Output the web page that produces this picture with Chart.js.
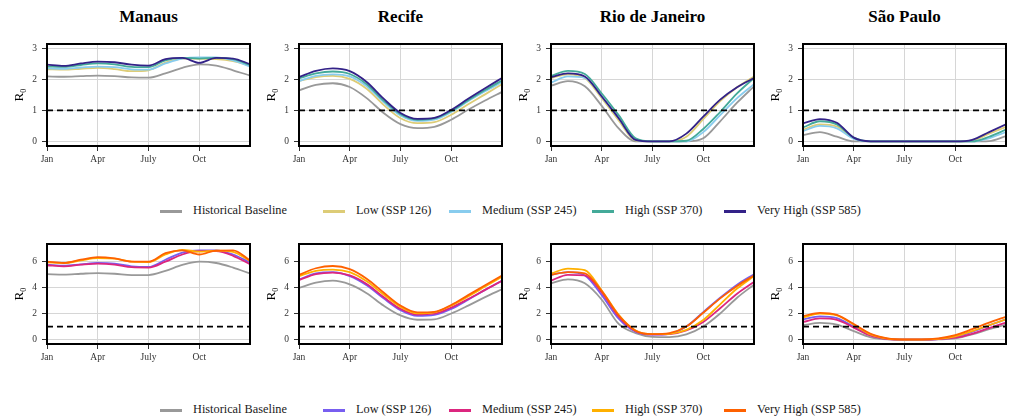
<!DOCTYPE html>
<html>
<head>
<meta charset="utf-8">
<script src="https://cdn.jsdelivr.net/npm/chart.js@4.4.1/dist/chart.umd.min.js"></script>
<style>
  body { margin: 0; background: #fff; font-family: "Liberation Serif", "DejaVu Serif", serif; }
  #page { position: relative; width: 1016px; height: 420px; overflow: hidden; }
  canvas { position: absolute; }
  .title { position: absolute; top: 7px; width: 203px; font-size: 17px; line-height: 20px; font-weight: bold; text-align: center; color: #000; }
  .key { position: absolute; width: 22px; height: 3px; }
  .keytext { position: absolute; font-size: 12.3px; line-height: 14px; color: #1a1a1a; white-space: nowrap; }
</style>
</head>
<body>
<div id="page"></div>
<script>
const months = [0, 1, 2, 3, 4, 5, 6, 7, 8, 9, 10, 11, 12];
const tickMonths = [0, 3, 6, 9];
const tickLabels = ['Jan', 'Apr', 'July', 'Oct'];
const cities = ['Manaus', 'Recife', 'Rio de Janeiro', 'São Paulo'];
const scenarios = ['Historical Baseline', 'Low (SSP 126)', 'Medium (SSP 245)', 'High (SSP 370)', 'Very High (SSP 585)'];
const threshold = 1;
const topTicks = [0, 1, 2, 3];
const bottomTicks = [0, 2, 4, 6];

// top row: baseline, low, medium, high, very high
const manausTop = [
    [2.10, 2.09, 2.11, 2.13, 2.11, 2.07, 2.06, 2.20, 2.38, 2.49, 2.45, 2.30, 2.13],
    [2.33, 2.32, 2.35, 2.38, 2.34, 2.27, 2.30, 2.55, 2.68, 2.67, 2.66, 2.60, 2.45],
    [2.36, 2.35, 2.39, 2.42, 2.40, 2.33, 2.32, 2.52, 2.68, 2.72, 2.72, 2.62, 2.42],
    [2.42, 2.41, 2.47, 2.52, 2.49, 2.41, 2.40, 2.62, 2.70, 2.68, 2.70, 2.66, 2.47],
    [2.48, 2.44, 2.52, 2.58, 2.56, 2.48, 2.45, 2.66, 2.70, 2.54, 2.70, 2.68, 2.50],
];
const recifeTop = [
    [1.65, 1.83, 1.88, 1.76, 1.40, 0.92, 0.56, 0.43, 0.47, 0.70, 1.02, 1.32, 1.60],
    [1.95, 2.08, 2.12, 2.02, 1.70, 1.18, 0.75, 0.59, 0.62, 0.86, 1.20, 1.52, 1.85],
    [1.95, 2.12, 2.17, 2.10, 1.78, 1.27, 0.84, 0.66, 0.70, 0.95, 1.30, 1.62, 1.92],
    [2.04, 2.20, 2.26, 2.18, 1.85, 1.32, 0.88, 0.70, 0.74, 0.98, 1.33, 1.66, 1.97],
    [2.08, 2.28, 2.36, 2.27, 1.92, 1.38, 0.92, 0.73, 0.76, 1.02, 1.38, 1.72, 2.05],
];
const rioTop = [
    [1.80, 1.95, 1.78, 1.15, 0.42, 0.00, 0.00, 0.00, 0.00, 0.10, 0.65, 1.25, 1.78],
    [2.05, 2.17, 2.05, 1.40, 0.68, 0.03, 0.00, 0.00, 0.15, 0.72, 1.30, 1.75, 2.10],
    [1.90, 2.10, 2.05, 1.45, 0.75, 0.05, 0.00, 0.00, 0.00, 0.30, 0.85, 1.40, 1.85],
    [2.12, 2.28, 2.18, 1.55, 0.85, 0.10, 0.00, 0.00, 0.02, 0.40, 0.95, 1.55, 2.05],
    [2.08, 2.20, 2.10, 1.45, 0.75, 0.05, 0.00, 0.00, 0.25, 0.80, 1.35, 1.75, 2.05],
];
const saoPauloTop = [
    [0.20, 0.30, 0.15, 0.00, 0.00, 0.00, 0.00, 0.00, 0.00, 0.00, 0.00, 0.01, 0.17],
    [0.38, 0.55, 0.48, 0.10, 0.00, 0.00, 0.00, 0.00, 0.00, 0.00, 0.02, 0.25, 0.47],
    [0.33, 0.50, 0.42, 0.08, 0.00, 0.00, 0.00, 0.00, 0.00, 0.00, 0.00, 0.10, 0.30],
    [0.45, 0.65, 0.55, 0.12, 0.00, 0.00, 0.00, 0.00, 0.00, 0.00, 0.00, 0.15, 0.38],
    [0.58, 0.72, 0.60, 0.12, 0.00, 0.00, 0.00, 0.00, 0.00, 0.00, 0.05, 0.30, 0.55],
];

// bottom row: baseline, low, medium, high, very high
const manausBottom = [
    [5.00, 4.97, 5.03, 5.08, 5.03, 4.93, 4.93, 5.25, 5.70, 5.95, 5.85, 5.50, 5.05],
    [5.72, 5.65, 5.75, 5.85, 5.80, 5.60, 5.55, 6.10, 6.65, 6.82, 6.82, 6.50, 5.90],
    [5.68, 5.60, 5.72, 5.80, 5.73, 5.53, 5.50, 5.95, 6.50, 6.75, 6.75, 6.40, 5.75],
    [5.90, 5.85, 6.05, 6.22, 6.18, 5.95, 5.92, 6.50, 6.85, 6.72, 6.80, 6.70, 6.00],
    [5.95, 5.85, 6.10, 6.30, 6.20, 5.95, 5.95, 6.60, 6.82, 6.50, 6.80, 6.82, 6.05],
];
const recifeBottom = [
    [3.95, 4.35, 4.50, 4.22, 3.55, 2.60, 1.85, 1.52, 1.55, 2.00, 2.60, 3.25, 3.85],
    [4.60, 5.05, 5.15, 4.85, 4.15, 3.15, 2.25, 1.82, 1.90, 2.35, 3.05, 3.80, 4.50],
    [4.55, 5.00, 5.12, 4.90, 4.25, 3.25, 2.35, 1.92, 1.98, 2.45, 3.10, 3.80, 4.50],
    [4.85, 5.25, 5.35, 5.15, 4.45, 3.45, 2.50, 2.00, 2.08, 2.60, 3.30, 4.05, 4.80],
    [4.95, 5.45, 5.62, 5.38, 4.65, 3.60, 2.60, 2.08, 2.12, 2.65, 3.40, 4.15, 4.90],
];
const rioBottom = [
    [4.30, 4.60, 4.30, 3.05, 1.20, 0.50, 0.22, 0.20, 0.40, 1.00, 2.00, 3.20, 4.20],
    [4.95, 5.15, 4.90, 3.40, 1.60, 0.60, 0.38, 0.45, 1.00, 2.10, 3.20, 4.20, 5.00],
    [4.50, 4.95, 4.90, 3.60, 1.75, 0.65, 0.40, 0.42, 0.70, 1.35, 2.40, 3.50, 4.40],
    [5.05, 5.42, 5.30, 3.75, 1.90, 0.70, 0.42, 0.45, 0.75, 1.50, 2.70, 3.90, 4.85],
    [4.95, 5.15, 5.05, 3.70, 1.85, 0.68, 0.42, 0.50, 1.00, 2.05, 3.15, 4.10, 4.90],
];
const saoPauloBottom = [
    [1.10, 1.28, 1.15, 0.65, 0.18, 0.02, 0.00, 0.00, 0.02, 0.10, 0.40, 0.80, 1.15],
    [1.55, 1.78, 1.65, 1.00, 0.35, 0.06, 0.01, 0.01, 0.05, 0.22, 0.60, 1.10, 1.55],
    [1.35, 1.62, 1.52, 0.92, 0.30, 0.05, 0.00, 0.00, 0.04, 0.15, 0.45, 0.88, 1.30],
    [1.70, 1.98, 1.85, 1.15, 0.40, 0.08, 0.01, 0.01, 0.06, 0.25, 0.65, 1.10, 1.55],
    [1.80, 2.05, 1.90, 1.20, 0.45, 0.10, 0.02, 0.02, 0.10, 0.35, 0.80, 1.30, 1.75],
];

const topColors = ['#999999', '#DDCC77', '#88CCEE', '#44AA99', '#332288'];
const bottomColors = ['#999999', '#785EF0', '#DC267F', '#FFB000', '#FE6100'];

const serif = '"Liberation Serif", "DejaVu Serif", serif';
const page = document.getElementById('page');
const panelLeft = [0, 252, 504, 756];

// black box round each plot, drawn over the lines
const frame = {
    id: 'frame',
    afterDatasetsDraw(chart) {
        const a = chart.chartArea;
        const ctx = chart.ctx;
        ctx.save();
        ctx.strokeStyle = '#000';
        ctx.lineWidth = 2;
        ctx.strokeRect(a.left, a.top, a.right - a.left, a.bottom - a.top);
        ctx.restore();
    }
};

function drawPanel(left, top, series, colors, yTicks, yMin, yMax, axisHeight) {
    const canvas = document.createElement('canvas');
    canvas.width = 252;
    canvas.height = 145;
    canvas.style.left = left + 'px';
    canvas.style.top = top + 'px';
    page.appendChild(canvas);

    const datasets = series.map((vals, i) => ({
        label: scenarios[i],
        data: vals.map((v, j) => ({ x: months[j], y: v })),
        borderColor: colors[i],
        borderWidth: 1.8,
        pointRadius: 0,
        cubicInterpolationMode: 'monotone',
        order: series.length - i
    }));
    datasets.push({
        label: 'threshold',
        data: [{ x: months[0], y: threshold }, { x: months[months.length - 1], y: threshold }],
        borderColor: '#000',
        borderWidth: 1.8,
        borderDash: [6, 4],
        pointRadius: 0,
        order: 0
    });

    const grid = { color: '#d6d6d6', tickColor: '#333', tickLength: 5 };

    new Chart(canvas, {
        type: 'line',
        data: { datasets: datasets },
        options: {
            responsive: false,
            animation: false,
            devicePixelRatio: 1,
            layout: { padding: { top: 14, right: 2, left: 0, bottom: 0 } },
            plugins: { legend: { display: false }, tooltip: { enabled: false } },
            scales: {
                x: {
                    type: 'linear',
                    min: months[0],
                    max: months[months.length - 1],
                    afterBuildTicks: s => { s.ticks = tickMonths.map(v => ({ value: v })); },
                    afterFit: s => { s.height = axisHeight; },
                    ticks: {
                        callback: v => tickLabels[tickMonths.indexOf(v)],
                        autoSkip: false, maxRotation: 0, padding: 3,
                        color: '#333', font: { family: serif, size: 9.5 }
                    },
                    grid: grid,
                    border: { display: false }
                },
                y: {
                    min: yMin,
                    max: yMax,
                    afterBuildTicks: s => { s.ticks = yTicks.map(v => ({ value: v })); },
                    afterFit: s => { s.width = 47; },
                    ticks: { padding: 5, color: '#333', font: { family: serif, size: 9.5 } },
                    grid: grid,
                    border: { display: false },
                    title: {
                        display: true, text: 'R₀', color: '#000',
                        font: { family: serif, size: 13 },
                        padding: { top: 12, bottom: 0 }
                    }
                }
            }
        },
        plugins: [frame]
    });
}

const topRow = [manausTop, recifeTop, rioTop, saoPauloTop];
const bottomRow = [manausBottom, recifeBottom, rioBottom, saoPauloBottom];

cities.forEach((city, i) => {
    const t = document.createElement('div');
    t.className = 'title';
    t.style.left = (panelLeft[i] + 47) + 'px';
    t.textContent = city;
    page.appendChild(t);
    drawPanel(panelLeft[i], 30, topRow[i], topColors, topTicks, -0.15, 3.15, 29);
    drawPanel(panelLeft[i], 230, bottomRow[i], bottomColors, bottomTicks, -0.33, 7.3, 31);
});

// legends under each row
const keyLeft = [160, 323, 449, 592, 724];
function drawLegend(centerY, colors) {
    scenarios.forEach((name, i) => {
        const k = document.createElement('div');
        k.className = 'key';
        k.style.left = keyLeft[i] + 'px';
        k.style.top = (centerY - 1.5) + 'px';
        k.style.background = colors[i];
        page.appendChild(k);
        const s = document.createElement('div');
        s.className = 'keytext';
        s.style.left = (keyLeft[i] + 33) + 'px';
        s.style.top = (centerY - 8) + 'px';
        s.textContent = name;
        page.appendChild(s);
    });
}
drawLegend(211, topColors);
drawLegend(410, bottomColors);
</script>
</body>
</html>
